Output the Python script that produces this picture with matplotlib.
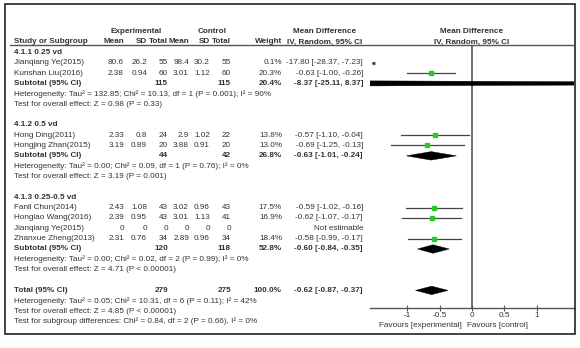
"""
Forest plot: mean difference by vd subgroup (random effects).
"""
import matplotlib
matplotlib.use("Agg")
import matplotlib.pyplot as plt
from matplotlib import transforms
from matplotlib.patches import Polygon, Rectangle
from matplotlib.lines import Line2D

plt.rcParams['font.family'] = ['Liberation Sans', 'DejaVu Sans']

# ---- data ----
groups = ["4.1.1 0.25 vd", "4.1.2 0.5 vd", "4.1.3 0.25-0.5 vd"]
studies = [
    ["Jianqiang Ye(2015)", "Kunshan Liu(2016)"],
    ["Hong Ding(2011)", "Hongjing Zhan(2015)"],
    ["Fanli Chun(2014)", "Honglao Wang(2016)", "Jianqiang Ye(2015)", "Zhanxue Zheng(2013)"],
]
exp_mean = [["80.6", "2.38"], ["2.33", "3.19"], ["2.43", "2.39", "0", "2.31"]]
exp_sd = [["26.2", "0.94"], ["0.8", "0.89"], ["1.08", "0.95", "0", "0.76"]]
exp_n = [["55", "60"], ["24", "20"], ["43", "43", "0", "34"]]
ctrl_mean = [["98.4", "3.01"], ["2.9", "3.88"], ["3.02", "3.01", "0", "2.89"]]
ctrl_sd = [["30.2", "1.12"], ["1.02", "0.91"], ["0.96", "1.13", "0", "0.96"]]
ctrl_n = [["55", "60"], ["22", "20"], ["43", "41", "0", "34"]]
weights = [[0.1, 20.3], [13.8, 13.0], [17.5, 16.9, None, 18.4]]
md = [[-17.80, -0.63], [-0.57, -0.69], [-0.59, -0.62, None, -0.58]]
ci_lo = [[-28.37, -1.00], [-1.10, -1.25], [-1.02, -1.07, None, -0.99]]
ci_hi = [[-7.23, -0.26], [-0.04, -0.13], [-0.16, -0.17, None, -0.17]]

sub_n_exp = [115, 44, 120]
sub_n_ctrl = [115, 42, 118]
sub_weight = [20.4, 26.8, 52.8]
sub_md = [-8.37, -0.63, -0.60]
sub_lo = [-25.11, -1.01, -0.84]
sub_hi = [8.37, -0.24, -0.35]
sub_het = [
    "Heterogeneity: Tau\u00b2 = 132.85; Chi\u00b2 = 10.13, df = 1 (P = 0.001); I\u00b2 = 90%",
    "Heterogeneity: Tau\u00b2 = 0.00; Chi\u00b2 = 0.09, df = 1 (P = 0.76); I\u00b2 = 0%",
    "Heterogeneity: Tau\u00b2 = 0.00; Chi\u00b2 = 0.02, df = 2 (P = 0.99); I\u00b2 = 0%",
]
sub_effect = [
    "Test for overall effect: Z = 0.98 (P = 0.33)",
    "Test for overall effect: Z = 3.19 (P = 0.001)",
    "Test for overall effect: Z = 4.71 (P < 0.00001)",
]

total_n_exp = 279
total_n_ctrl = 275
total_md = -0.62
total_lo = -0.87
total_hi = -0.37
total_notes = [
    "Heterogeneity: Tau\u00b2 = 0.05; Chi\u00b2 = 10.31, df = 6 (P = 0.11); I\u00b2 = 42%",
    "Test for overall effect: Z = 4.85 (P < 0.00001)",
    "Test for subgroup differences: Chi\u00b2 = 0.84, df = 2 (P = 0.66), I\u00b2 = 0%",
]

xticks = [-1, -0.5, 0, 0.5, 1]
xtick_labels = ["-1", "-0.5", "0", "0.5", "1"]

# ---- layout (pixels) ----
W, H = 580, 348
ROW0_PX, ROW_PX = 31.65, 10.35
FS = 5.9
TXT = "#333333"
LINE = "#555555"
GREEN = "#22cc22"

COL = {"study": 14, "exp_mean": 124, "exp_sd": 147, "exp_n": 168,
       "ctrl_mean": 189, "ctrl_sd": 210, "ctrl_n": 231, "weight": 282, "ci": 363}

fig = plt.figure(figsize=(W / 100, H / 100), dpi=100)
ax_top, ax_bot = 45, 308
ax = fig.add_axes([370 / W, (H - ax_bot) / H, 204 / W, (ax_bot - ax_top) / H])
ax.set_xlim(-1.57, 1.57)
ax.set_ylim((ax_bot - ROW0_PX) / ROW_PX, (ax_top - ROW0_PX) / ROW_PX)
for side in ["top", "right", "left"]:
    ax.spines[side].set_visible(False)
ax.spines["bottom"].set_color(LINE)
ax.spines["bottom"].set_linewidth(1.0)
ax.set_yticks([])
ax.set_xticks(xticks)
ax.set_xticklabels(xtick_labels)
ax.tick_params(axis="x", direction="inout", length=4, width=0.8, color=LINE,
               labelsize=FS, labelcolor=TXT, pad=1)
ax.axvline(0, color="#666666", lw=1.3, zorder=1)

trans = transforms.blended_transform_factory(fig.transFigure, ax.transData)


def put(col, row, s, ha="right", bold=False):
    x = COL[col] if isinstance(col, str) else col
    fig.text(x / W, row, s, transform=trans, ha=ha, va="center", fontsize=FS,
             color=TXT, fontweight="bold" if bold else "normal")


def ci_text(m, lo, hi):
    return f"{m:.2f} [{lo:.2f}, {hi:.2f}]"


def diamond(row, m, lo, hi, half=0.41):
    ax.add_patch(Polygon([[lo, row], [m, row - half], [hi, row], [m, row + half]],
                         closed=True, fc="black", ec="black", lw=0.3, zorder=3))


# header
put(136, 0, "Experimental", ha="center", bold=True)
put(212, 0, "Control", ha="center", bold=True)
put(325, 0, "Mean Difference", ha="center", bold=True)
put(472, 0, "Mean Difference", ha="center", bold=True)
put("study", 1, "Study or Subgroup", ha="left", bold=True)
for c, s in [("exp_mean", "Mean"), ("exp_sd", "SD"), ("exp_n", "Total"),
             ("ctrl_mean", "Mean"), ("ctrl_sd", "SD"), ("ctrl_n", "Total"),
             ("weight", "Weight")]:
    put(c, 1, s, bold=True)
put(325, 1, "IV, Random, 95% CI", ha="center", bold=True)
put(472, 1, "IV, Random, 95% CI", ha="center", bold=True)
fig.add_artist(Line2D([10 / W, 574 / W], [(H - ax_top) / H] * 2,
                      transform=fig.transFigure, color=LINE, lw=1.0))

row = 2
for g in range(len(groups)):
    put("study", row, groups[g], ha="left", bold=True)
    row += 1
    for i, name in enumerate(studies[g]):
        put("study", row, name, ha="left")
        put("exp_mean", row, exp_mean[g][i])
        put("exp_sd", row, exp_sd[g][i])
        put("exp_n", row, exp_n[g][i])
        put("ctrl_mean", row, ctrl_mean[g][i])
        put("ctrl_sd", row, ctrl_sd[g][i])
        put("ctrl_n", row, ctrl_n[g][i])
        if md[g][i] is None:
            put("ci", row, "Not estimable")
        else:
            put("weight", row, f"{weights[g][i]:.1f}%")
            put("ci", row, ci_text(md[g][i], ci_lo[g][i], ci_hi[g][i]))
            xmin, xmax = ax.get_xlim()
            if ci_hi[g][i] < xmin:
                # interval entirely off the scale: arrow at the left edge
                ax.plot([xmin + 0.05], [row], marker="<", ms=1.8, color="#444444",
                        clip_on=False)
            else:
                ax.plot([ci_lo[g][i], ci_hi[g][i]], [row, row], color="#444444",
                        lw=0.9, zorder=2)
                ax.plot([md[g][i]], [row], marker="s", ms=2.0 + 0.02 * weights[g][i],
                        color=GREEN, mec=GREEN, zorder=4)
        row += 1
    put("study", row, "Subtotal (95% CI)", ha="left", bold=True)
    put("exp_n", row, str(sub_n_exp[g]), bold=True)
    put("ctrl_n", row, str(sub_n_ctrl[g]), bold=True)
    put("weight", row, f"{sub_weight[g]:.1f}%", bold=True)
    put("ci", row, ci_text(sub_md[g], sub_lo[g], sub_hi[g]), bold=True)
    diamond(row, sub_md[g], sub_lo[g], sub_hi[g])
    row += 1
    put("study", row, sub_het[g], ha="left")
    row += 1
    put("study", row, sub_effect[g], ha="left")
    row += 2

put("study", row, "Total (95% CI)", ha="left", bold=True)
put("exp_n", row, str(total_n_exp), bold=True)
put("ctrl_n", row, str(total_n_ctrl), bold=True)
put("weight", row, "100.0%", bold=True)
put("ci", row, ci_text(total_md, total_lo, total_hi), bold=True)
diamond(row, total_md, total_lo, total_hi)
for note in total_notes:
    row += 1
    put("study", row, note, ha="left")

# favours labels under the axis
fav_row = (326 - ROW0_PX) / ROW_PX
fig.text(462 / W, fav_row, "Favours [experimental]", transform=trans, ha="right",
         va="center", fontsize=FS, color=TXT)
fig.text(467 / W, fav_row, "Favours [control]", transform=trans, ha="left",
         va="center", fontsize=FS, color=TXT)

# outer frame
fig.add_artist(Rectangle((5 / W, (H - 334) / H), 570 / W, 330 / H,
                         transform=fig.transFigure, fill=False, ec="#222222", lw=1.2))

fig.savefig("out.png", dpi=100)
